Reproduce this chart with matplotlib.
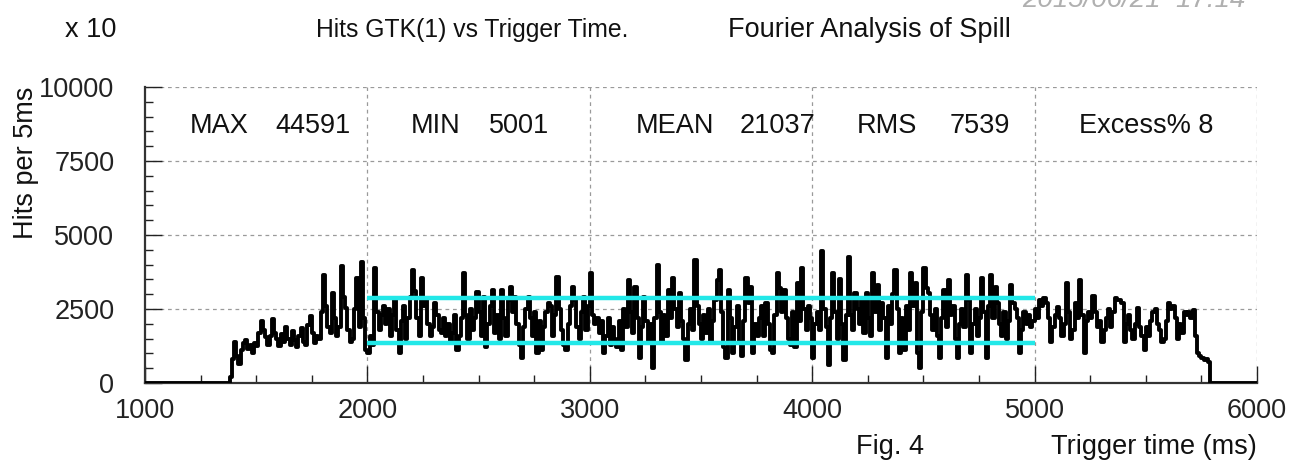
import numpy as np
import matplotlib.pyplot as plt

plt.rcParams['font.family'] = ['Liberation Sans', 'DejaVu Sans']

# spill profile, hits per 5 ms (units of x10), sampled every 10 ms from 1380 ms
t_start = 1380
t_step = 10
hits = [
    200, 800, 1400, 900, 650, 1100, 1350, 1450, 1150, 1300,
    1000, 1350, 1250, 1700, 2100, 1800, 1550, 1300, 1600, 2150,
    1700, 1500, 1250, 1650, 1400, 1900, 1500, 1300, 1750, 1450,
    1200, 1600, 1850, 1400, 1300, 1950, 2250, 1700, 1350, 1600,
    1500, 2400, 3650, 2600, 1900, 1700, 3050, 2200, 1600, 1900,
    3950, 2900, 2550, 1800, 1400, 1500, 2500, 3550, 1900, 4100,
    2200, 1100, 1000, 1600, 1300, 3880, 2400, 1800, 2300, 2600,
    2000, 2500, 1600, 2300, 2800, 1800, 1000, 2100, 2600, 1500,
    2200, 2900, 3820, 3100, 2200, 1600, 3540, 2600, 2800, 2000,
    1600, 1900, 2700, 2300, 1800, 1700, 2200, 1600, 2000, 1400,
    1700, 2300, 1100, 1600, 2200, 3710, 2300, 1500, 2500, 1800,
    2200, 3080, 2400, 1600, 2900, 1230, 2000, 2600, 3140, 1700,
    2300, 1500, 3140, 2200, 1600, 2800, 3250, 2400, 2900, 2000,
    1300, 830, 1900, 2500, 2900, 2200, 1600, 2400, 1000, 2100,
    1100, 1900, 2400, 2700, 2600, 1600, 2300, 3590, 2500, 1800,
    1300, 1110, 2000, 2600, 3250, 2800, 1900, 1500, 2400, 2900,
    1800, 2600, 3710, 2300, 2000, 2200, 1700, 2100, 1000, 1600,
    2200, 1300, 1900, 1500, 1200, 2100, 1100, 2500, 1900, 3480,
    2400, 1700, 3250, 2200, 830, 1900, 2900, 2100, 1400, 2000,
    500, 2200, 3990, 2400, 1400, 2300, 1600, 3140, 2200, 3540,
    2500, 1900, 3030, 2100, 1500, 780, 2000, 2500, 1800, 4160,
    2600, 2000, 1500, 2300, 1700, 2500, 1400, 2100, 2800, 3480,
    3820, 2400, 1200, 830, 3140, 2200, 1000, 1900, 2600, 1400,
    900, 2100, 3540, 2700, 3250, 1000, 2000, 1600, 2200, 2600,
    1600, 2700, 2000, 1100, 1000, 2300, 3710, 3200, 2400, 3140,
    2200, 1500, 1300, 2400, 1200, 3370, 2100, 3870, 2500, 1800,
    2600, 2200, 830, 2000, 2400, 1800, 4459, 2500, 1900, 610,
    2200, 3710, 2400, 1500, 3500, 2000, 780, 2300, 4270, 2300,
    1800, 3030, 2500, 2000, 2800, 1700, 3030, 2200, 1600, 3710,
    2400, 3300, 1800, 2700, 2200, 830, 2600, 2000, 3000, 3820,
    2500, 1000, 2200, 1100, 2600, 1800, 3710, 2600, 3370, 1000,
    510, 2400, 3870, 3200, 3030, 2300, 1800, 2500, 1600, 830,
    2200, 3140, 1900, 3480, 2300, 2600, 1500, 830, 2000, 2500,
    1900, 3650, 2800, 1000, 2000, 2500, 1600, 2200, 3540, 2400,
    830, 2600, 3650, 2200, 3250, 2700, 2000, 1600, 2400, 1500,
    2100, 3300, 2700, 2500, 2200, 1010, 1800, 2400, 2000, 2300,
    1900, 2100, 2500, 2200, 2800, 2600, 2880, 2700, 2200, 1390,
    1900, 2300, 2580, 2200, 1600, 2000, 3370, 2400, 1500, 1800,
    2700, 2200, 3480, 2300, 1010, 2100, 2400, 2200, 2930, 2400,
    1900, 2100, 1400, 1800, 2200, 2500, 1900, 2400, 2860, 2800,
    2800, 2700, 1400, 2000, 2300, 1800, 1500, 2000, 2520, 1900,
    1600, 1100, 1900, 1600, 2100, 2400, 2500, 2000, 1800, 1400,
    1500, 2100, 2690, 2500, 2600, 2200, 1500, 2000, 1700, 2400,
    2300, 2400, 2200, 2450, 1600, 1000, 900, 830, 780, 800,
    700, 0,
]

# statistics printed on the plot (raw hits)
stat_names = ['MAX', 'MIN', 'MEAN', 'RMS']
stat_values = [44591, 5001, 21037, 7539]
excess_pct = 8
scale = 10
band_range = [2000, 5000]

times = t_start + t_step * np.arange(len(hits))
t_full = np.concatenate([[1000], times, [6000]])
h_full = np.concatenate([[0], hits, [0]])

W, H = 1290, 468
FS = 19.5
fig = plt.figure(figsize=(W / 100, H / 100), dpi=100)
ax = fig.add_axes([145 / W, 1 - 383 / H, 1112 / W, 296 / H])

ax.plot(t_full, h_full, color='black', lw=2.8, drawstyle='steps-post', zorder=3)

mean_v = stat_values[2] / scale
rms_v = stat_values[3] / scale
for yv in [mean_v + rms_v, mean_v - rms_v]:
    ax.hlines(yv, band_range[0], band_range[1], color='#22e8e8', lw=3.2, zorder=4)

ax.set_xlim(1000, 6000)
ax.set_ylim(0, 10000)
ax.set_xticks([1000, 2000, 3000, 4000, 5000, 6000])
ax.set_xticks(np.arange(1000, 6001, 250), minor=True)
ax.set_yticks([0, 2500, 5000, 7500, 10000])
ax.set_yticks(np.arange(0, 10001, 500), minor=True)
ax.tick_params(which='both', direction='in', labelsize=FS, colors='#222222')
ax.tick_params(which='major', length=12, width=1)
ax.tick_params(which='minor', length=6, width=1)
ax.tick_params(axis='x', pad=11)
ax.tick_params(axis='y', pad=22)

for s in ['top', 'right']:
    ax.spines[s].set_visible(False)
for s in ['left', 'bottom']:
    ax.spines[s].set_linewidth(1.6)
    ax.spines[s].set_color('#333333')

grid_kw = dict(color='#9a9a9a', lw=0.9, linestyle=(0, (3, 3)), zorder=1)
for xv in [2000, 3000, 4000, 5000, 6000]:
    ax.axvline(xv, **grid_kw)
for yv in [2500, 5000, 7500, 10000]:
    ax.axhline(yv, **grid_kw)


def ftext(px, py, s, **kw):
    kw.setdefault('fontsize', FS)
    kw.setdefault('va', 'center')
    kw.setdefault('color', '#111111')
    return fig.text(px / W, 1 - py / H, s, **kw)


ftext(116, 30, 'x 10', ha='right')
ftext(316, 30, 'Hits GTK(1) vs Trigger Time.', ha='left', fontsize=17.8)
ftext(728, 30, 'Fourier Analysis of Spill', ha='left', fontsize=19.5)
ftext(1022, 7, '2015/06/21  17:14', ha='left', va='baseline', color='#b0b0b0',
      style='italic', fontsize=20)

name_x = [190, 411, 636, 857]
value_x = [275, 489, 740, 950]
for nx, vx, name, val in zip(name_x, value_x, stat_names, stat_values):
    ftext(nx, 126, name, ha='left')
    ftext(vx, 126, str(val), ha='left')
ftext(1079, 126, f'Excess% {excess_pct}', ha='left')

ftext(26, 87, 'Hits per 5ms', ha='center', va='top', rotation=90)
ftext(856, 447, 'Fig. 4', ha='left')
ftext(1257, 447, 'Trigger time (ms)', ha='right')

fig.savefig('out.png', dpi=100)
